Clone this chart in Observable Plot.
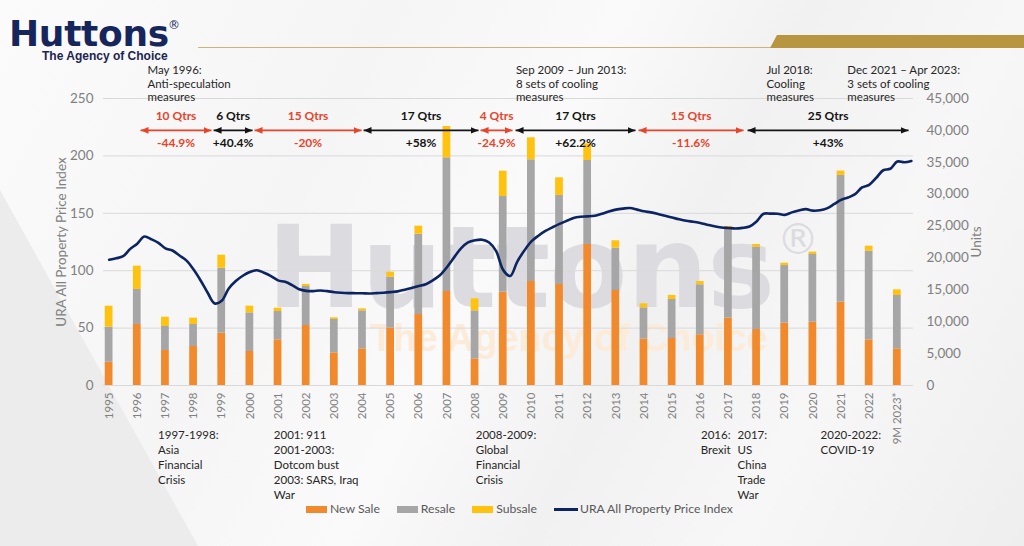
<!DOCTYPE html>
<html>
<head>
<meta charset="utf-8">
<script src="https://cdn.jsdelivr.net/npm/d3@7"></script>
<script src="https://cdn.jsdelivr.net/npm/@observablehq/plot@0.6"></script>
<style>
html, body { margin: 0; padding: 0; }
body {
  width: 1024px; height: 546px; overflow: hidden; position: relative;
  font-family: Lato, "Open Sans", sans-serif;
  background: linear-gradient(118deg, #fbfbfb 0%, #f5f5f5 30%, #fafafa 48%, #f1f1f1 62%, #f7f7f7 78%, #eeeeee 100%);
}
.tri { position: absolute; left: 0; top: 0; width: 1024px; height: 546px;
  background: #ececec; clip-path: polygon(0 190px, 198px 546px, 0 546px); }
.logo { position: absolute; left: 9px; top: 19px; white-space: pre-line;
  padding-left: 33px; text-indent: -33px;
  font: bold 12px/14px "Liberation Sans", Arial, sans-serif; color: #1b2550; }
.logo::first-line { font: bold 36px/30px "DejaVu Sans", sans-serif; color: #16265c; letter-spacing: -0.3px; }
.logo-r { position: absolute; left: 168px; top: 19px; font: 12px/12px "DejaVu Sans", sans-serif; color: #16265c; }
.gold-line { position: absolute; left: 198px; top: 47px; width: 580px; height: 1px; background: #cdb27a; }
.gold-band { position: absolute; left: 770px; top: 35px; width: 254px; height: 13px; background: #b8953f;
  clip-path: polygon(7px 0, 100% 0, 100% 100%, 0 100%); }
.wm { position: absolute; left: 267px; top: 219px; white-space: pre-line;
  padding-left: 103px; text-indent: -103px;
  font: bold 38px/42px "Liberation Sans", Arial, sans-serif; color: #fcebd9; }
.wm::first-line { font: bold 114px/98px "DejaVu Sans", sans-serif; color: #dcdce0; letter-spacing: -0.8px; }
.wm-r { position: absolute; left: 777px; top: 219px; font: 42px/42px "DejaVu Sans", sans-serif; color: #dcdce0; }
#chart { position: absolute; left: 0; top: 0; }
.legend { position: absolute; left: 306px; top: 501px; display: flex; gap: 17px; align-items: center;
  font: 12.2px/16px Lato, sans-serif; color: #595959; }
.legend span { display: flex; align-items: center; }
.legend i { display: inline-block; width: 21px; height: 7px; margin-right: 3px; }
.legend i.ln { width: 24px; height: 3px; margin-right: 2px; }
</style>
</head>
<body>
<div class="tri"></div>
<div class="logo">Huttons
The Agency of Choice</div>
<div class="logo-r">®</div>
<div class="gold-line"></div>
<div class="gold-band"></div>
<div class="wm">Huttons
The Agency of Choice</div>
<div class="wm-r">®</div>
<div id="chart"></div>
<div class="legend">
  <span><i style="background:#F08A2C"></i>New Sale</span>
  <span><i style="background:#A6A6A6"></i>Resale</span>
  <span><i style="background:#FFC20E"></i>Subsale</span>
  <span><i class="ln" style="background:#0D2463"></i>URA All Property Price Index</span>
</div>
<script>
// ---------- data ----------
const years = ["1995","1996","1997","1998","1999","2000","2001","2002","2003","2004","2005","2006","2007","2008","2009","2010","2011","2012","2013","2014","2015","2016","2017","2018","2019","2020","2021","2022","9M 2023*"];
const newSale = [3650,9570,5490,6120,8200,5330,7160,9410,5120,5750,8990,11130,14740,4180,14630,16310,15840,22110,14900,7270,7370,7950,10560,8780,9770,9930,13070,7160,5750];
const resale  = [5490,5490,3760,3450,10190,6060,4440,6120,5230,5960,8000,12600,20960,7530,15000,19080,13960,13170,6640,4910,6120,7840,14010,12910,9040,10610,19870,13900,8360];
const subsale = [3290,3650,1460,990,2040,1050,520,310,260,310,780,1250,4910,1880,3970,3450,2770,2610,1150,630,630,520,370,420,370,370,680,780,890];

// URA All Property Price Index, quarterly 1995Q1 .. 2023Q3
const uraIndex = [
  109.5,110.8,112.6,119.0,  123.5,129.8,127.4,124.3,  119.5,117.6,113.2,108.8,  101.0,91.5,80.8,71.5,
  73.8,84.5,91.0,95.6,      98.8,100.4,98.2,95.3,     91.6,90.3,87.4,83.8,      82.4,82.2,82.8,82.2,
  81.3,80.8,80.5,80.4,      80.3,80.2,80.5,80.8,      81.3,82.0,83.4,85.0,      86.6,88.2,91.6,96.0,
  103.0,111.4,119.4,124.6,  126.5,127.0,124.6,117.0,  100.5,95.4,108.0,117.5,   125.5,130.5,134.6,137.8,
  140.8,143.4,146.0,147.0,  147.3,147.9,149.6,151.6,  153.2,154.1,154.6,153.2,  151.7,150.8,149.4,147.8,
  146.3,144.8,143.5,142.6,  141.6,140.1,138.7,137.7,  137.2,136.8,137.3,138.5,  142.9,149.6,149.7,149.6,
  148.6,150.8,152.4,153.6,  152.3,152.6,154.3,157.9,  161.7,163.7,166.7,172.5,  174.8,180.8,187.5,188.8,
  195.1,194.5,195.6
];

const indexTicks = [0, 50, 100, 150, 200, 250];
const unitTicks = [0,5000,10000,15000,20000,25000,30000,35000,40000,45000];

// cycles: start / end positions in quarters since 1995Q1 (as drawn)
const periodStart = [4.46, 14.84, 20.66, 36.15, 52.78, 57.75, 75.23, 90.72];
const periodEnd   = [14.55, 20.38, 35.87, 52.49, 57.32, 74.8, 90.15, 113.6];
const periodQtrs  = ["10 Qtrs","6 Qtrs","15 Qtrs","17 Qtrs","4 Qtrs","17 Qtrs","15 Qtrs","25 Qtrs"];
const periodChange = ["-44.9%","+40.4%","-20%","+58%","-24.9%","+62.2%","-11.6%","+43%"];

const topNotes = ["May 1996:\nAnti-speculation\nmeasures", "Sep 2009 – Jun 2013:\n8 sets of cooling\nmeasures", "Jul 2018:\nCooling\nmeasures", "Dec 2021 – Apr 2023:\n3 sets of cooling\nmeasures"];
const topNoteAt = [5.45, 57.8, 93.4, 104.9];
const bottomNotes = ["1997-1998:\nAsia\nFinancial\nCrisis", "2001: 911\n2001-2003:\nDotcom bust\n2003: SARS, Iraq\nWar", "2008-2009:\nGlobal\nFinancial\nCrisis", "2017:\nUS\nChina\nTrade\nWar", "2020-2022:\nCOVID-19"];
const bottomNoteAt = [6.95, 23.4, 52.1, 89.3, 101.1];
const brexitNote = ["2016:\nBrexit"];
const brexitAt = [88.3];

// ---------- layout constants ----------
const UNITS_PER_INDEX = 45000 / 250;
const Q_PER_YEAR = 4;
const BAR_HALF = 0.55;        // half bar width, in quarters
const ARROW_Y = 40000;        // units level of cycle arrows
const TOP_NOTE_Y = 50300;
const BOTTOM_NOTE_Y = -6800;

const C_NEW = "#F08A2C", C_RESALE = "#A6A6A6", C_SUB = "#FFC20E", C_LINE = "#0D2463";
const C_RED = "#E8432B", C_BLK = "#141414";

// stacked bars
const bars = years.map((label, i) => {
  const a = newSale[i], b = resale[i], c = subsale[i];
  return {q: i * Q_PER_YEAR, label, n0: 0, n1: a, r0: a, r1: a + b, s0: a + b, s1: a + b + c};
});
const line = uraIndex.map((v, k) => ({k, v}));
const periods = periodStart.map((s, i) => ({s, e: periodEnd[i], m: (s + periodEnd[i]) / 2, qtrs: periodQtrs[i], chg: periodChange[i], neg: periodChange[i].startsWith("-")}));
const neg = periods.filter(d => d.neg), pos = periods.filter(d => !d.neg);

function tri(color) {
  const m = d3.create("svg:marker")
    .attr("viewBox", "-10 -5 10 10")
    .attr("markerWidth", 8).attr("markerHeight", 8)
    .attr("markerUnits", "userSpaceOnUse")
    .attr("orient", "auto-start-reverse")
    .attr("fill", color).attr("stroke", "none");
  m.append("path").attr("d", "M-10,-4.2L0,0L-10,4.2Z");
  return m.node();
}

const font = "Lato, sans-serif";
const chart = Plot.plot({
  width: 1024, height: 546,
  marginLeft: 103, marginRight: 111, marginTop: 98, marginBottom: 161,
  x: {domain: [-0.8, 114.3]},
  y: {domain: [0, 45000]},
  style: {background: "transparent", fontFamily: font, overflow: "visible"},
  marks: [
    Plot.gridY(indexTicks.map(d => d * UNITS_PER_INDEX), {stroke: "#d9d9d9", strokeOpacity: 1, strokeWidth: 1}),
    Plot.rectY(bars, {x1: d => d.q - BAR_HALF, x2: d => d.q + BAR_HALF, y1: "n0", y2: "n1", fill: C_NEW}),
    Plot.rectY(bars, {x1: d => d.q - BAR_HALF, x2: d => d.q + BAR_HALF, y1: "r0", y2: "r1", fill: C_RESALE}),
    Plot.rectY(bars, {x1: d => d.q - BAR_HALF, x2: d => d.q + BAR_HALF, y1: "s0", y2: "s1", fill: C_SUB}),
    Plot.line(line, {x: "k", y: d => d.v * UNITS_PER_INDEX, stroke: C_LINE, strokeWidth: 2.6, curve: "catmull-rom"}),
    Plot.axisX(bars.map(d => d.q), {tickFormat: q => years[q / Q_PER_YEAR], tickRotate: -90, tickSize: 0, tickPadding: 7, fontSize: 11.5, color: "#808080", label: null}),
    Plot.axisY(indexTicks.map(d => d * UNITS_PER_INDEX), {anchor: "left", tickFormat: d => d / UNITS_PER_INDEX, tickSize: 0, tickPadding: 10, fontSize: 13.5, color: "#808080",
      label: "URA All Property Price Index", labelAnchor: "center", labelOffset: 47, labelArrow: false}),
    Plot.axisY(unitTicks, {anchor: "right", tickFormat: d3.format(","), tickSize: 0, tickPadding: 13, fontSize: 13.5, color: "#808080",
      label: "Units", labelAnchor: "center", labelOffset: 67, labelArrow: false}),
    Plot.link(neg, {x1: "s", x2: "e", y1: ARROW_Y, y2: ARROW_Y, stroke: C_RED, strokeWidth: 1.6, markerStart: tri, markerEnd: tri}),
    Plot.link(pos, {x1: "s", x2: "e", y1: ARROW_Y, y2: ARROW_Y, stroke: C_BLK, strokeWidth: 1.6, markerStart: tri, markerEnd: tri}),
    Plot.text(neg, {x: "m", y: ARROW_Y, dy: -14, text: "qtrs", fill: C_RED, fontWeight: "bold", fontSize: 12}),
    Plot.text(pos, {x: "m", y: ARROW_Y, dy: -14, text: "qtrs", fill: C_BLK, fontWeight: "bold", fontSize: 12}),
    Plot.text(neg, {x: "m", y: ARROW_Y, dy: 13, text: "chg", fill: C_RED, fontWeight: "bold", fontSize: 12}),
    Plot.text(pos, {x: "m", y: ARROW_Y, dy: 13, text: "chg", fill: C_BLK, fontWeight: "bold", fontSize: 12}),
    Plot.text(topNotes, {x: (d, i) => topNoteAt[i], y: TOP_NOTE_Y, text: d => d, textAnchor: "start", lineAnchor: "top", fontSize: 11.5, lineHeight: 1.17, fill: "#262626"}),
    Plot.text(bottomNotes, {x: (d, i) => bottomNoteAt[i], y: BOTTOM_NOTE_Y, text: d => d, textAnchor: "start", lineAnchor: "top", fontSize: 11.5, lineHeight: 1.3, fill: "#262626"}),
    Plot.text(brexitNote, {x: (d, i) => brexitAt[i], y: BOTTOM_NOTE_Y, text: d => d, textAnchor: "end", lineAnchor: "top", fontSize: 11.5, lineHeight: 1.3, fill: "#262626"})
  ]
});
document.getElementById("chart").appendChild(chart);
</script>
</body>
</html>
